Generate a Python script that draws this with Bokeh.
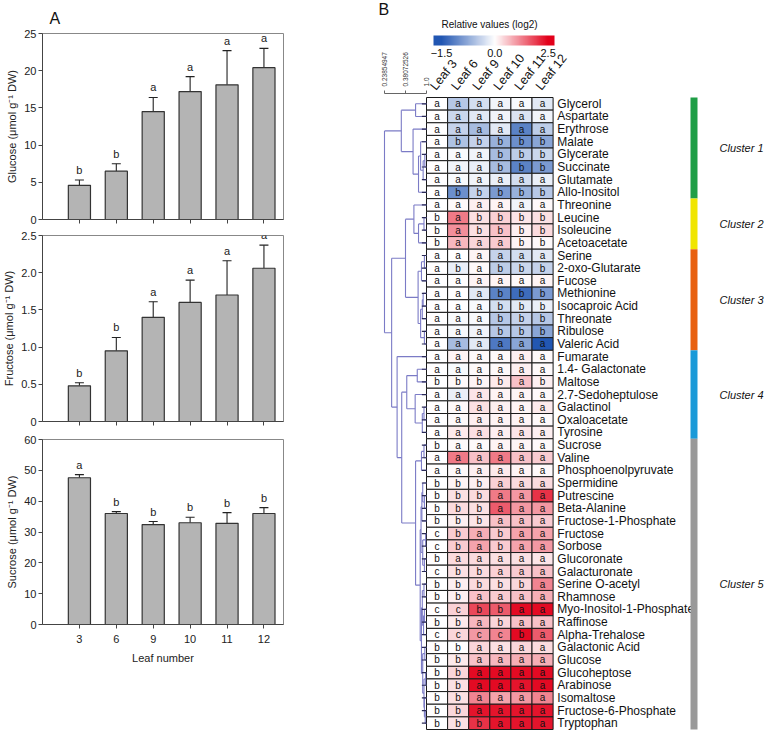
import math
from bokeh.plotting import figure
from bokeh.models import (ColumnDataSource, Range1d, FixedTicker, ColorBar,
                          LinearColorMapper, Whisker, TeeHead, LabelSet)
from bokeh.layouts import row, column
from bokeh.transform import linear_cmap
from bokeh.embed import file_html
from bokeh.resources import INLINE
from bokeh.core.properties import value

FONT = "Liberation Sans"

# ---------------- Panel A data ----------------
leaves = ["3", "6", "9", "10", "11", "12"]
glucose = [4.6, 6.5, 14.5, 17.2, 18.1, 20.4]
glucose_err = [0.7, 1.0, 1.9, 2.0, 4.6, 2.6]
glucose_sig = ["b", "b", "a", "a", "a", "a"]
fructose = [0.48, 0.95, 1.40, 1.60, 1.70, 2.06]
fructose_err = [0.04, 0.18, 0.21, 0.30, 0.46, 0.31]
fructose_sig = ["b", "b", "a", "a", "a", "a"]
sucrose = [47.6, 36.0, 32.4, 33.0, 32.8, 36.0]
sucrose_err = [1.0, 0.6, 1.0, 1.8, 3.5, 1.9]
sucrose_sig = ["a", "b", "b", "b", "b", "b"]
glucose_ticks = [0, 5, 10, 15, 20, 25]
fructose_ticks = [0, 0.5, 1.0, 1.5, 2.0, 2.5]
sucrose_ticks = [0, 10, 20, 30, 40, 50, 60]

# ---------------- Panel B data ----------------
leaf_cols = ["Leaf 3", "Leaf 6", "Leaf 9", "Leaf 10", "Leaf 11", "Leaf 12"]
metabolites = [
    "Glycerol", "Aspartate", "Erythrose", "Malate", "Glycerate", "Succinate",
    "Glutamate", "Allo-Inositol", "Threonine", "Leucine", "Isoleucine",
    "Acetoacetate", "Serine", "2-oxo-Glutarate", "Fucose", "Methionine",
    "Isocaproic Acid", "Threonate", "Ribulose", "Valeric Acid", "Fumarate",
    "1.4- Galactonate", "Maltose", "2.7-Sedoheptulose", "Galactinol",
    "Oxaloacetate", "Tyrosine", "Sucrose", "Valine", "Phosphoenolpyruvate",
    "Spermidine", "Putrescine", "Beta-Alanine", "Fructose-1-Phosphate",
    "Fructose", "Sorbose", "Glucoronate", "Galacturonate", "Serine O-acetyl",
    "Rhamnose", "Myo-Inositol-1-Phosphate", "Raffinose", "Alpha-Trehalose",
    "Galactonic Acid", "Glucose", "Glucoheptose", "Arabinose", "Isomaltose",
    "Fructose-6-Phosphate", "Tryptophan"]
# log2 values relative to leaf 3 (one list per leaf, in metabolite order)
leaf3_vals = [0, 0, 0, 0, 0, 0, 0, 0, 0, 0, 0, 0, 0, 0, 0, 0, 0, 0, 0, 0, 0, 0, 0, 0, 0,
              0, 0, 0, 0, 0, 0, 0, 0, 0, 0, 0, 0, 0, 0, 0, 0, 0, 0, 0, 0, 0, 0, 0, 0, 0]
leaf6_vals = [-0.5, -0.35, -0.4, -0.55, -0.05, -0.1, -0.05, -1.0, 0.05, 1.3, 1.1, 0.7,
              0.0, -0.15, 0.0, 0.0, 0.0, -0.05, -0.05, -0.6, 0.1, -0.05, 0.05, -0.15,
              0.05, 0.05, 0.2, 0.05, 1.3, 0.05, 0.1, 0.3, 0.35, 0.15, 0.5, 0.5, 0.35,
              0.3, 0.15, 0.15, 0.45, 0.2, 0.4, 0.0, 0.2, 0.4, 0.3, 0.3, 0.4, 0.3]
leaf9_vals = [-0.3, -0.2, -0.6, -0.4, -0.1, -0.15, -0.1, -0.4, 0.15, 0.3, 0.3, 0.4,
              0.1, 0.05, 0.1, -0.2, -0.05, -0.05, -0.1, -0.2, 0.05, 0.05, 0.1, 0.25,
              0.3, 0.15, 0.3, 0.05, 0.6, 0.15, 0.15, 0.35, 0.3, 0.25, 0.8, 0.9, 0.35,
              0.35, 0.35, 0.6, 1.8, 0.7, 1.0, 0.4, 0.6, 2.4, 2.4, 1.2, 2.3, 2.0]
leaf10_vals = [-0.1, -0.1, -0.2, -0.7, -0.6, -0.6, -0.15, -0.9, 0.1, 0.45, 0.6, 0.5,
               -0.4, -0.45, 0.1, -1.1, -0.3, -0.5, -0.5, -1.2, 0.05, 0.05, 0.2, 0.1,
               0.15, 0.1, 0.15, 0.1, 1.3, 0.2, 0.45, 1.3, 1.6, 0.6, 0.5, 0.5, 0.3,
               0.45, 0.3, 0.5, 1.6, 0.4, 1.2, 0.3, 0.7, 2.4, 2.4, 0.9, 2.3, 2.3]
leaf11_vals = [-0.05, -0.25, -1.1, -1.0, -0.45, -1.1, -0.3, -0.7, -0.1, 0.25, 0.15, 0.1,
               -0.3, -0.35, 0.05, -1.3, -0.2, -0.4, -0.5, -0.8, 0.15, 0.15, 0.6, 0.1,
               0.1, 0.1, 0.25, 0.1, 0.6, 0.1, 0.35, 1.0, 1.0, 0.6, 0.9, 0.9, 0.3,
               0.5, 0.4, 0.6, 2.4, 0.6, 2.4, 0.4, 0.8, 2.4, 2.3, 1.0, 2.3, 2.3]
leaf12_vals = [-0.2, -0.1, -0.45, -0.8, -0.35, -0.9, -0.15, -0.5, 0.05, 0.3, 0.35, 0.05,
               -0.2, -0.4, 0.1, -0.9, -0.15, -0.5, -0.8, -1.5, 0.05, 0.05, 0.15, 0.05,
               0.2, 0.05, 0.15, 0.05, 0.5, 0.05, 0.35, 2.0, 1.0, 0.5, 0.9, 1.0, 0.25,
               0.6, 1.2, 0.8, 2.4, 0.6, 1.6, 0.35, 0.8, 2.4, 2.4, 1.2, 2.3, 2.3]
# significance letters per metabolite (Leaf 3 ... Leaf 12)
sig_letters = [
    "aaaaaa", "aaaaaa", "aaaaaa", "abbbbb", "aaabbb", "aaabbb", "aaaaaa", "abbbbb",
    "aaaaaa", "babbbb", "babbbb", "baaabb", "aaaaaa", "ababbb", "aaaaaa", "aaabbb",
    "aaabbb", "aaabbb", "aaabbb", "aaaaaa", "aaaaaa", "aaaaaa", "bbbbab", "aaaaaa",
    "aaaaaa", "aaaaaa", "aaaaaa", "baaaaa", "aaaaaa", "aaaaaa", "bbbaaa", "bbbaaa",
    "bbbaaa", "bbbaaa", "cbabaa", "cbabaa", "baaaaa", "cbbaaa", "bbbbba", "bbaaaa",
    "ccbbaa", "bbabaa", "ccccba", "bbaaaa", "bbaaaa", "bbaaaa", "bbaaaa", "bbaaaa",
    "bbaaaa", "bbbaaa"]
# hierarchical clustering: (left, right, height); leaves = metabolite row index
dendro_tree = (
    ((0, 1, 0.26), (2, ((3, ((4, 5, 0.04), 6, 0.08), 0.14), 7, 0.19), 0.32), 0.60),
    (
        ((8, ((9, 10, 0.06), 11, 0.19), 0.30),
         (((12, 13, 0.05), 14, 0.12), (((15, 16, 0.08), 17, 0.10), (18, 19, 0.05), 0.14), 0.20),
         0.50),
        (20,
         (((21, 22, 0.22), (23, ((24, 25, 0.06), 26, 0.10), 0.27), 0.47),
          (((27, 28, 0.06), 29, 0.12),
           ((((30, (31, 32, 0.05), 0.09), 33, 0.11), ((34, 35, 0.02), (36, 37, 0.05), 0.09), 0.13),
            (((38, 39, 0.06), ((40, 41, 0.05), 42, 0.07), 0.10),
             ((43, 44, 0.04), ((45, 46, 0.02), (47, (48, 49, 0.03), 0.05), 0.06), 0.09), 0.12),
            0.15),
           0.26),
          0.59),
         0.70),
        0.83),
    1.0)
dendro_scale_labels = ["0.23854947", "0.38072526", "1.0"]
dendro_scale_heights = [1.0, 0.5, 0.0]
cluster_names = ["Cluster 1", "Cluster 2", "Cluster 3", "Cluster 4", "Cluster 5"]
cluster_first = [0, 8, 12, 20, 27]
cluster_last = [8, 12, 20, 27, 50]
cluster_colors = ["#1f9e46", "#f0e500", "#e8600f", "#1a9ad8", "#999999"]
cbar_ticks = [-1.5, 0.0, 2.5]

# ---------------- styling ----------------
BLUE = (33, 86, 178)
RED = (226, 0, 26)
INK = "#222222"


def mix(c, t):
    t = max(0.0, min(1.0, t))
    return "#%02x%02x%02x" % tuple(int(round(255 + (ci - 255) * t)) for ci in c)


LOW, HIGH = cbar_ticks[0], cbar_ticks[-1]
NPAL = 400
cell_palette = []
for k in range(NPAL):
    v = LOW + (HIGH - LOW) * (k + 0.5) / NPAL
    cell_palette.append(mix(BLUE, v / LOW) if v < 0 else mix(RED, v / HIGH))
# display scale of the legend: negative half and positive half drawn equally long
D_LO, D_HI = -1.15, 1.12
disp_palette = []
for k in range(256):
    t = D_LO + (D_HI - D_LO) * (k + 0.5) / 256
    disp_palette.append(mix(BLUE, -t) if t < 0 else mix(RED, t))


# ---------------- Panel A ----------------
def bar_panel(vals, errs, sig, ticks, ymax, ylabel, height, btop, bbottom, show_x, letters_over_frame):
    xs = list(range(1, len(leaves) + 1))
    src = ColumnDataSource(dict(x=xs, top=vals, up=[v + e for v, e in zip(vals, errs)], sig=sig))
    p = figure(width=290, height=height, x_range=Range1d(0, 6.53), y_range=Range1d(0, ymax),
               output_backend="svg", toolbar_location=None,
               min_border_left=42, min_border_right=7, min_border_top=btop, min_border_bottom=bbottom)
    p.vbar(x="x", top="top", bottom=0, width=0.6, source=src,
           fill_color="#b4b4b4", line_color="#333333", line_width=1.2)
    p.add_layout(Whisker(source=src, base="x", upper="up", lower="top", dimension="height",
                         line_color=INK, line_width=1.1,
                         upper_head=TeeHead(size=9, line_color=INK, line_width=1.1),
                         lower_head=None))
    if letters_over_frame:
        p.add_layout(LabelSet(x="x", y="up", text="sig", source=src, y_offset=4, text_align="center",
                              text_baseline="bottom", text_font=value(FONT),
                              text_font_size=value("11px"), text_color=value(INK)))
    else:
        p.text(x="x", y="up", text="sig", source=src, y_offset=-4, text_align="center",
               text_baseline="bottom", text_font=value(FONT), text_font_size="11px",
               text_color=INK)
    p.xgrid.visible = False
    p.ygrid.visible = False
    p.outline_line_color = "#888888"
    p.xaxis.ticker = FixedTicker(ticks=xs)
    p.xaxis.major_label_overrides = {x: lab for x, lab in zip(xs, leaves)}
    p.yaxis.ticker = FixedTicker(ticks=ticks)
    p.yaxis.major_label_overrides = {t: ("0" if t == 0 else (f"{t:.1f}" if ymax < 5 else f"{t:g}")) for t in ticks}
    for ax in (p.xaxis[0], p.yaxis[0]):
        ax.axis_line_color = "#444444"
        ax.major_tick_line_color = "#444444"
        ax.minor_tick_line_color = None
        ax.major_tick_in = 0
        ax.major_tick_out = 4
        ax.major_label_text_font = FONT
        ax.major_label_text_font_size = "11px"
        ax.major_label_text_color = INK
        ax.axis_label_text_font = FONT
        ax.axis_label_text_font_size = "11px"
        ax.axis_label_text_font_style = "normal"
        ax.axis_label_text_color = INK
    p.yaxis.major_label_standoff = 2
    p.yaxis.axis_label = ylabel
    p.yaxis.axis_label_standoff = 3
    if show_x:
        p.xaxis.axis_label = "Leaf number"
        p.xaxis.major_label_standoff = 6
        p.xaxis.axis_label_standoff = 6
    else:
        p.xaxis.major_label_text_font_size = "0px"
        p.xaxis.major_label_standoff = 0
    return p


f1 = bar_panel(glucose, glucose_err, glucose_sig, glucose_ticks, 25,
               "Glucose (\u03bcmol g\u207b\u00b9 DW)", 227, 33, 8, False, False)
f2 = bar_panel(fructose, fructose_err, fructose_sig, fructose_ticks, 2.5,
               "Fructose (\u03bcmol g\u207b\u00b9 DW)", 203, 8, 9, False, True)
f3 = bar_panel(sucrose, sucrose_err, sucrose_sig, sucrose_ticks, 60,
               "Sucrose (\u03bcmol g\u207b\u00b9 DW)", 300, 9, 106, True, False)
f1.title.text = "A"
f1.title.align = "left"
f1.title.offset = 7
f1.title.standoff = 13
f1.title.text_font = FONT
f1.title.text_font_size = "16px"
f1.title.text_font_style = "normal"
f1.title.text_color = "#111111"

# ---------------- Panel B ----------------
W, H = 478, 730
PX0, PY0 = 290, 0          # page position of the figure
HX, HY = 426, 97           # page position of heat-map top-left corner
CW, RH = 21.1, 12.64       # cell size in px


def gx(px):
    return (px - HX) / CW


def gy(py):
    return (py - HY) / RH


pb = figure(width=W, height=H, x_range=Range1d(gx(PX0), gx(PX0 + W)),
            y_range=Range1d(gy(PY0 + H), gy(PY0)), output_backend="svg", toolbar_location=None,
            x_axis_type=None, y_axis_type=None, min_border=0)
pb.min_border_left = pb.min_border_right = pb.min_border_top = pb.min_border_bottom = 0
pb.grid.visible = False
pb.outline_line_color = None

cols_vals = [leaf3_vals, leaf6_vals, leaf9_vals, leaf10_vals, leaf11_vals, leaf12_vals]
hx, hy, hv, hl = [], [], [], []
for r, name in enumerate(metabolites):
    for c in range(len(leaf_cols)):
        hx.append(c + 0.5)
        hy.append(r + 0.5)
        hv.append(cols_vals[c][r])
        hl.append(sig_letters[r][c])
hsrc = ColumnDataSource(dict(x=hx, y=hy, v=hv, sig=hl))
pb.rect(x="x", y="y", width=1, height=1, source=hsrc,
        fill_color=linear_cmap("v", cell_palette, LOW, HIGH), line_color="#1a1a1a", line_width=1)
pb.text(x="x", y="y", text="sig", source=hsrc, text_align="center", text_baseline="middle",
        text_font=value(FONT), text_font_size="10px", text_color="#111111")

# metabolite names
nrows = len(metabolites)
pb.text(x=[len(leaf_cols) + 0.2] * nrows, y=[r + 0.5 for r in range(nrows)], text=metabolites,
        text_align="left", text_baseline="middle", text_font=value(FONT),
        text_font_size="12px", text_color="#111111")
# column headers
pb.text(x=[c + 0.3 for c in range(len(leaf_cols))], y=[gy(88)] * len(leaf_cols), text=leaf_cols,
        angle=0.9, text_align="left", text_baseline="middle", text_font=value(FONT),
        text_font_size="12.5px", text_color="#111111")

# dendrogram
DW = (HX - 384) / CW
sx0, sy0, sx1, sy1 = [], [], [], []


def walk(node):
    if isinstance(node, int):
        return 0.0, node + 0.5
    a, b, h = node
    xa, ya = walk(a)
    xb, yb = walk(b)
    xn = -h * DW
    sx0.extend([xn, xn, xn]); sy0.extend([ya, yb, ya])
    sx1.extend([xa, xb, xn]); sy1.extend([ya, yb, yb])
    return xn, (ya + yb) / 2


walk(dendro_tree)
pb.segment(x0=sx0, y0=sy0, x1=sx1, y1=sy1, line_color="#7b7bc6", line_width=1.1)
pb.segment(x0=[-0.22] * nrows, y0=[r + 0.5 for r in range(nrows)], x1=[0] * nrows,
           y1=[r + 0.5 for r in range(nrows)], line_color="#2a2a55", line_width=1.2)
# dendrogram scale
pb.segment(x0=[-DW], y0=[gy(93)], x1=[0], y1=[gy(93)], line_color="#666666", line_width=1)
pb.segment(x0=[-h * DW for h in dendro_scale_heights], y0=[gy(93)] * 3,
           x1=[-h * DW for h in dendro_scale_heights], y1=[gy(90)] * 3, line_color="#666666", line_width=1)
pb.text(x=[-h * DW for h in dendro_scale_heights], y=[gy(86)] * 3, text=dendro_scale_labels,
        angle=math.pi / 2, text_align="left", text_baseline="middle", text_font=value(FONT),
        text_font_size="6.5px", text_color="#333333")

# clusters
pb.quad(left=gx(690), right=gx(697), top=cluster_first, bottom=cluster_last,
        fill_color=cluster_colors, line_color=None)
pb.text(x=[gx(719)] * len(cluster_names),
        y=[(a + b) / 2 for a, b in zip(cluster_first, cluster_last)], text=cluster_names,
        text_align="left", text_baseline="middle", text_font=value(FONT),
        text_font_size="11px", text_font_style="italic", text_color="#111111")

# panel letter and colour-bar title
pb.text(x=[gx(378)], y=[gy(17)], text=["B"], text_align="left", text_baseline="bottom",
        text_font=value(FONT), text_font_size="16px", text_color="#111111")
pb.text(x=[gx(489)], y=[gy(24)], text=["Relative values (log2)"], text_align="center",
        text_baseline="middle", text_font=value(FONT), text_font_size="10px", text_color="#111111")

disp_mapper = LinearColorMapper(palette=disp_palette, low=D_LO, high=D_HI)
cb = ColorBar(color_mapper=disp_mapper, orientation="horizontal", width=121, height=10,
              location=(433 - PX0, H - (33 - PY0) - 26), padding=0,
              ticker=FixedTicker(ticks=[-1, 0, 1]),
              major_label_overrides={-1: "\u22121.5", 0: "0.0", 1: "2.5"},
              major_tick_line_color=None, minor_tick_line_color=None,
              major_label_text_font=FONT, major_label_text_font_size="11px",
              major_label_text_color="#111111", label_standoff=3,
              background_fill_alpha=0, border_line_color=None, bar_line_color=None)
pb.add_layout(cb, "center")

layout = row(column(f1, f2, f3), pb)
open("out.html", "w").write(file_html(layout, INLINE, "Leaf metabolites"))
